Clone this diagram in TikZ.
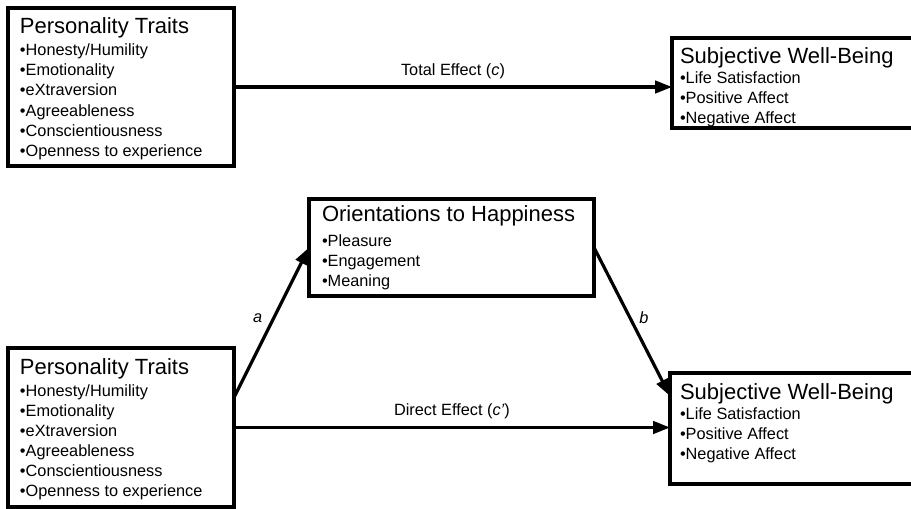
\documentclass[tikz,border=0pt]{standalone}
\usepackage{fontspec}
\setmainfont{Liberation Sans}
\usetikzlibrary{arrows.meta}

% title line of a box: strut sets the distance from the top border
\newcommand{\boxttl}[2]{\rule{0pt}{#1}{\fontsize{22}{24}\selectfont #2}}

\begin{document}
\begin{tikzpicture}[
    x=1pt, y=-1pt,
    font=\fontsize{16.3}{20.2}\selectfont,
    box/.style={draw, line width=3.2pt, inner sep=0pt, outer sep=0pt,
                anchor=north west},
    arr/.style={-{Triangle[length=17pt, width=12.5pt]}, line width=3.2pt},
    lbl/.style={font=\fontsize{16.3}{19}\selectfont, inner sep=7pt},
]
\useasboundingbox (0,0) rectangle (911,509);

% ===========================================================================
% total effect
% ===========================================================================
\node[box] (ptTop) at (8,8) {\parbox[c][158pt][t]{226pt}{\raggedright
    \leftskip=12pt\baselineskip=20.2pt
    \boxttl{25pt}{Personality Traits}\\[2.3pt]
    •Honesty/Humility\\
    •Emotionality\\
    •eXtraversion\\
    •Agreeableness\\
    •Conscientiousness\\
    •Openness to experience}};

% right edge runs off the page
\node[box] (swbTop) at (672,38) {\parbox[c][90pt][t]{250pt}{\raggedright
    \leftskip=8pt\baselineskip=20pt
    \boxttl{25pt}{Subjective Well-Being}\\
    •Life Satisfaction\\
    •Positive Affect\\
    •Negative Affect}};

\draw[arr] (ptTop.east) -- (ptTop.east -| swbTop.west)
    node[lbl, midway, above] {Total Effect (\textit{c})};

% ===========================================================================
% mediation
% ===========================================================================
\node[box] (ohBox) at (309,199) {\parbox[c][97pt][t]{285pt}{\raggedright
    \leftskip=13pt\baselineskip=20pt
    \boxttl{22pt}{Orientations to Happiness}\\[5pt]
    •Pleasure\\
    •Engagement\\
    •Meaning}};

\node[box] (ptBot) at (8,348) {\parbox[c][159pt][t]{226pt}{\raggedright
    \leftskip=12pt\baselineskip=20pt
    \boxttl{26pt}{Personality Traits}\\[2.4pt]
    •Honesty/Humility\\
    •Emotionality\\
    •eXtraversion\\
    •Agreeableness\\
    •Conscientiousness\\
    •Openness to experience}};

\node[box] (swbBot) at (670,373) {\parbox[c][111pt][t]{252pt}{\raggedright
    \leftskip=10pt\baselineskip=20pt
    \boxttl{26pt}{Subjective Well-Being}\\
    •Life Satisfaction\\
    •Positive Affect\\
    •Negative Affect}};

% ----- paths a, b and c' -----
\draw[arr] ([yshift=30pt]ptBot.east) -- (ohBox.west)
    node[lbl, pos=0.53, left, inner sep=10pt] {\textit{a}};
\draw[arr] (ohBox.east) -- ([yshift=-23pt]swbBot.north west)
    node[lbl, pos=0.47, right, inner sep=8pt] {\textit{b}};
\draw[arr] (ptBot.east) -- (ptBot.east -| swbBot.west)
    node[lbl, midway, above] {Direct Effect (\textit{c'})};

\end{tikzpicture}
\end{document}
